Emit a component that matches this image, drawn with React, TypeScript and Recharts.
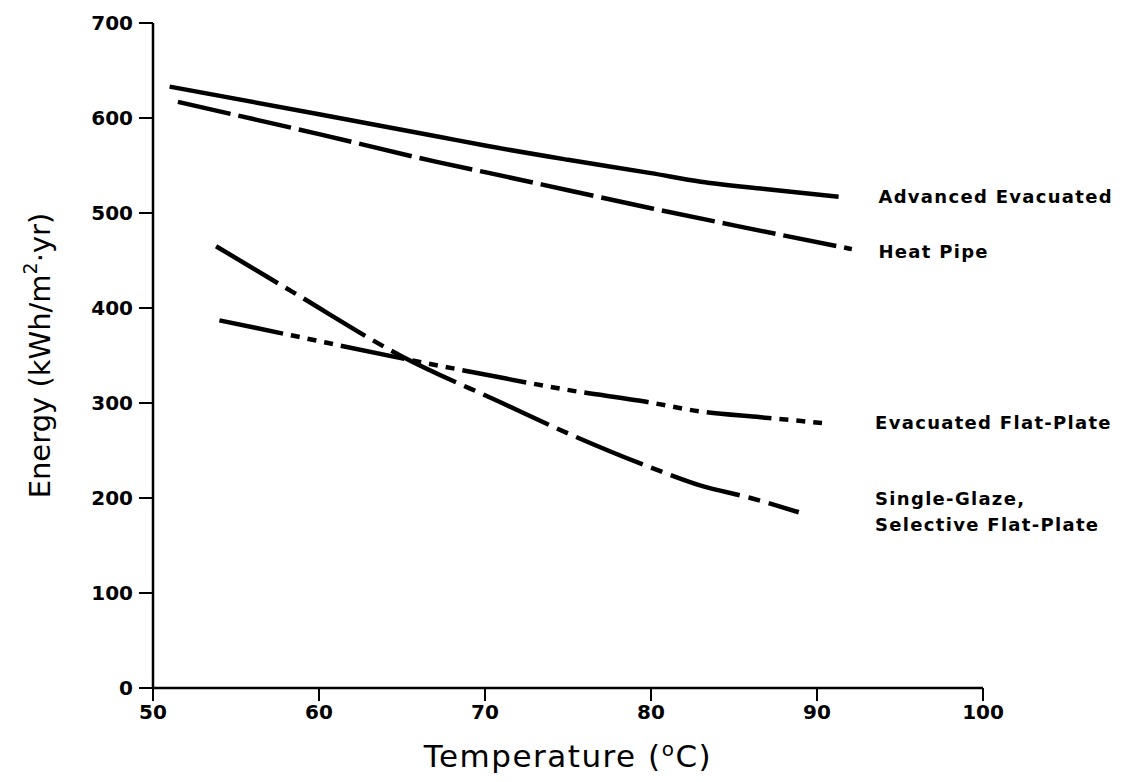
import { LineChart, Line, XAxis, YAxis, ReferenceDot, Label } from "recharts";

// collector curves: temperature (°C) vs annual energy (kWh/m²·yr)
const advancedT = [51, 60, 67.3, 70, 75, 80, 83, 87, 91.3];
const advancedE = [633, 604, 580, 571, 556, 542, 533, 525, 517];

const heatPipeT = [51.5, 60, 67.3, 70, 75, 80, 85, 92.1];
const heatPipeE = [617, 583, 553, 543, 524, 505, 487, 462];

const evacFlatT = [54, 58.4, 65, 70, 74.9, 79.8, 83, 86.6, 90.3];
const evacFlatE = [387, 371, 347, 330, 314, 301, 291, 285, 279];

const singleGlazeT = [53.8, 58.4, 65, 70.9, 75, 80, 83, 86, 88.9];
const singleGlazeE = [465, 417, 349, 301, 268, 232, 213, 200, 185];

const xTicks = [50, 60, 70, 80, 90, 100];
const yTicks = [0, 100, 200, 300, 400, 500, 600, 700];

const noteText = ["Advanced Evacuated", "Heat Pipe", "Evacuated Flat-Plate", "Single-Glaze,", "Selective Flat-Plate"];
const noteT = [93.7, 93.7, 93.5, 93.5, 93.5];
const noteE = [517, 459, 279, 200, 172];

const pts = (t: number[], e: number[]) => t.map((x, i) => ({ t: x, e: e[i] }));

const FONT = "DejaVu Sans";
const tickStyle = { fill: "#000", fontSize: 20, fontWeight: "bold", fontFamily: FONT };

const XTitle = (props: any) => {
  const { x, y, width } = props.viewBox;
  return (
    <text x={x + width / 2} y={y + 79} textAnchor="middle" fontFamily={FONT} fontSize={31} letterSpacing={1.5} fill="#000">
      Temperature (<tspan dy={-11} fontSize={20}>o</tspan>
      <tspan dy={11}>C)</tspan>
    </text>
  );
};

const YTitle = (props: any) => {
  const { x, y, height } = props.viewBox;
  const cx = x + 32;
  const cy = y + height / 2;
  return (
    <text
      x={cx}
      y={cy}
      transform={`rotate(-90 ${cx} ${cy})`}
      textAnchor="middle"
      dominantBaseline="central"
      fontFamily={FONT}
      fontSize={29}
      fill="#000"
    >
      Energy (kWh/m<tspan dy={-10} fontSize={19}>2</tspan>
      <tspan dy={10}>·yr)</tspan>
    </text>
  );
};

export default function App() {
  return (
    <LineChart width={1121} height={766} margin={{ top: 15, right: 146, bottom: 0, left: 0 }}>
      <XAxis
        type="number"
        dataKey="t"
        domain={[50, 100]}
        ticks={xTicks}
        allowDataOverflow
        height={86}
        tickSize={13}
        tickMargin={4}
        tick={tickStyle}
        axisLine={{ stroke: "#000", strokeWidth: 2.5 }}
        tickLine={{ stroke: "#000", strokeWidth: 2 }}
      >
        <Label content={XTitle} />
      </XAxis>
      <YAxis
        type="number"
        dataKey="e"
        domain={[0, 700]}
        ticks={yTicks}
        width={145}
        tickSize={14}
        tickMargin={6}
        tick={tickStyle}
        axisLine={{ stroke: "#000", strokeWidth: 2.5 }}
        tickLine={{ stroke: "#000", strokeWidth: 2 }}
      >
        <Label content={YTitle} />
      </YAxis>

      <Line data={pts(advancedT, advancedE)} dataKey="e" type="monotone" stroke="#000" strokeWidth={4.5} dot={false} isAnimationActive={false} />
      <Line data={pts(heatPipeT, heatPipeE)} dataKey="e" type="monotone" stroke="#000" strokeWidth={4.5} strokeDasharray="54 8" dot={false} isAnimationActive={false} />
      <Line data={pts(evacFlatT, evacFlatE)} dataKey="e" type="monotone" stroke="#000" strokeWidth={4.5} strokeDasharray="65 8 9 8 9 8 9 8" dot={false} isAnimationActive={false} />
      <Line data={pts(singleGlazeT, singleGlazeE)} dataKey="e" type="monotone" stroke="#000" strokeWidth={4.5} strokeDasharray="72 9 12 9" dot={false} isAnimationActive={false} />

      {noteText.map((txt, i) => (
        <ReferenceDot
          key={txt}
          x={noteT[i]}
          y={noteE[i]}
          r={1}
          shape={(p: any) => (
            <text x={p.cx} y={p.cy} dominantBaseline="central" fontFamily={FONT} fontSize={18} fontWeight="bold" letterSpacing={1.3} fill="#000">
              {txt}
            </text>
          )}
        />
      ))}
    </LineChart>
  );
}
